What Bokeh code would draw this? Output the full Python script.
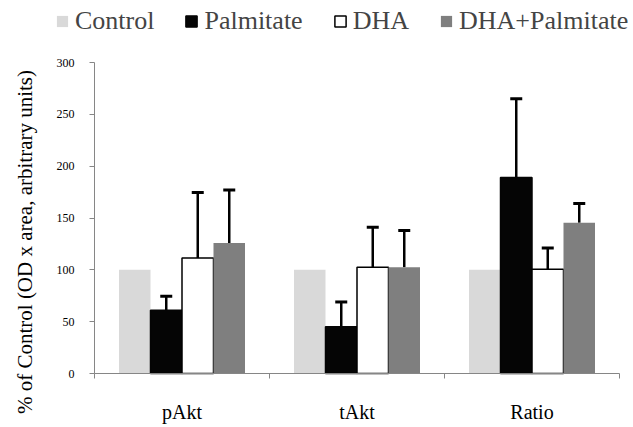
import numpy as np
from bokeh.plotting import figure
from bokeh.models import (Range1d, FixedTicker, Whisker, TeeHead, Legend,
                          LegendItem, Label, ColumnDataSource)
from bokeh.embed import file_html
from bokeh.resources import INLINE

# ---- data ----
categories = ["pAkt", "tAkt", "Ratio"]
series = ["Control", "Palmitate", "DHA", "DHA+Palmitate"]
control = [100, 100, 100]
palmitate = [61, 45, 189]
dha = [111.5, 102.5, 100.5]
dha_palmitate = [126, 102.5, 145.5]
palmitate_err = [13.5, 24, 76]
dha_err = [63, 38.5, 20.5]
dha_palmitate_err = [51, 35.5, 18.5]
y_ticks = [0, 50, 100, 150, 200, 250, 300]

values = [control, palmitate, dha, dha_palmitate]
errors = [None, palmitate_err, dha_err, dha_palmitate_err]
fills = ["#d9d9d9", "#050505", "#ffffff", "#7f7f7f"]
lines = [None, "#050505", "#000000", None]
offsets = [-0.27, -0.09, 0.09, 0.27]
bar_w = 0.18

SERIF = "Liberation Serif"
AXIS_COLOR = "#868686"

W, H = 633, 427
FL, FR, FT, FB = 94, 619, 62, 373          # plot area inside the figure (px)
px_x = (FR - FL) / 3.0
px_y = (FB - FT) / 300.0
x_range = Range1d(-FL / px_x, 3 + (W - FR) / px_x)
y_range = Range1d(-(H - FB) / px_y, 300 + FT / px_y)

p = figure(width=W, height=H, x_range=x_range, y_range=y_range,
           output_backend="svg", toolbar_location=None, min_border=0)
p.outline_line_color = None
p.xgrid.visible = False
p.ygrid.visible = False

idx = np.arange(len(categories)) + 0.5
legend_items = []
for name, vals, errs, fc, lc, off in zip(series, values, errors, fills, lines, offsets):
    src = ColumnDataSource(dict(x=idx + off, top=vals))
    r = p.vbar(x="x", top="top", width=bar_w, source=src, fill_color=fc,
               line_color=lc, line_width=1.5 if lc else 0)
    legend_items.append(LegendItem(label=name, renderers=[r]))
    if errs is not None:
        esrc = ColumnDataSource(dict(x=idx + off, lower=vals,
                                     upper=np.array(vals) + np.array(errs)))
        w = Whisker(base="x", lower="lower", upper="upper", source=esrc,
                    line_color="black", line_width=2.5, lower_head=None,
                    upper_head=TeeHead(size=12, line_width=3, line_color="black"))
        p.add_layout(w)

# y axis
ya = p.yaxis[0]
ya.fixed_location = 0
ya.bounds = (0, 300)
ya.ticker = FixedTicker(ticks=y_ticks, minor_ticks=[])
ya.axis_line_color = AXIS_COLOR
ya.major_tick_line_color = AXIS_COLOR
ya.major_tick_out = 5
ya.major_tick_in = 0
ya.major_label_standoff = 15
ya.major_label_text_font = SERIF
ya.major_label_text_font_size = "12px"
ya.major_label_text_color = "black"

# x axis
xa = p.xaxis[0]
xa.fixed_location = 0
xa.bounds = (0, 3)
xa.ticker = FixedTicker(ticks=list(idx), minor_ticks=[0, 1, 2, 3])
xa.major_label_overrides = {float(v): c for v, c in zip(idx, categories)}
xa.axis_line_color = AXIS_COLOR
xa.major_tick_line_color = None
xa.minor_tick_line_color = AXIS_COLOR
xa.minor_tick_out = 5
xa.minor_tick_in = 0
xa.major_label_standoff = 21
xa.major_label_text_font = SERIF
xa.major_label_text_font_size = "20px"
xa.major_label_text_color = "black"

# y axis title
p.add_layout(Label(x=(24 - FL) / px_x, y=(FB - 241.5) / px_y,
                   text="% of Control (OD x area, arbitrary units)",
                   angle=np.pi / 2, text_align="center", text_baseline="middle",
                   text_font=SERIF, text_font_size="21px", text_color="black"))

legend = Legend(items=legend_items, orientation="horizontal", location=(55, H - 36),
                padding=0, margin=0, spacing=30, label_standoff=6,
                glyph_width=14, glyph_height=14,
                label_text_font=SERIF, label_text_font_size="26px",
                border_line_color=None, background_fill_alpha=0)
p.add_layout(legend)

open("out.html", "w").write(file_html(p, INLINE))
